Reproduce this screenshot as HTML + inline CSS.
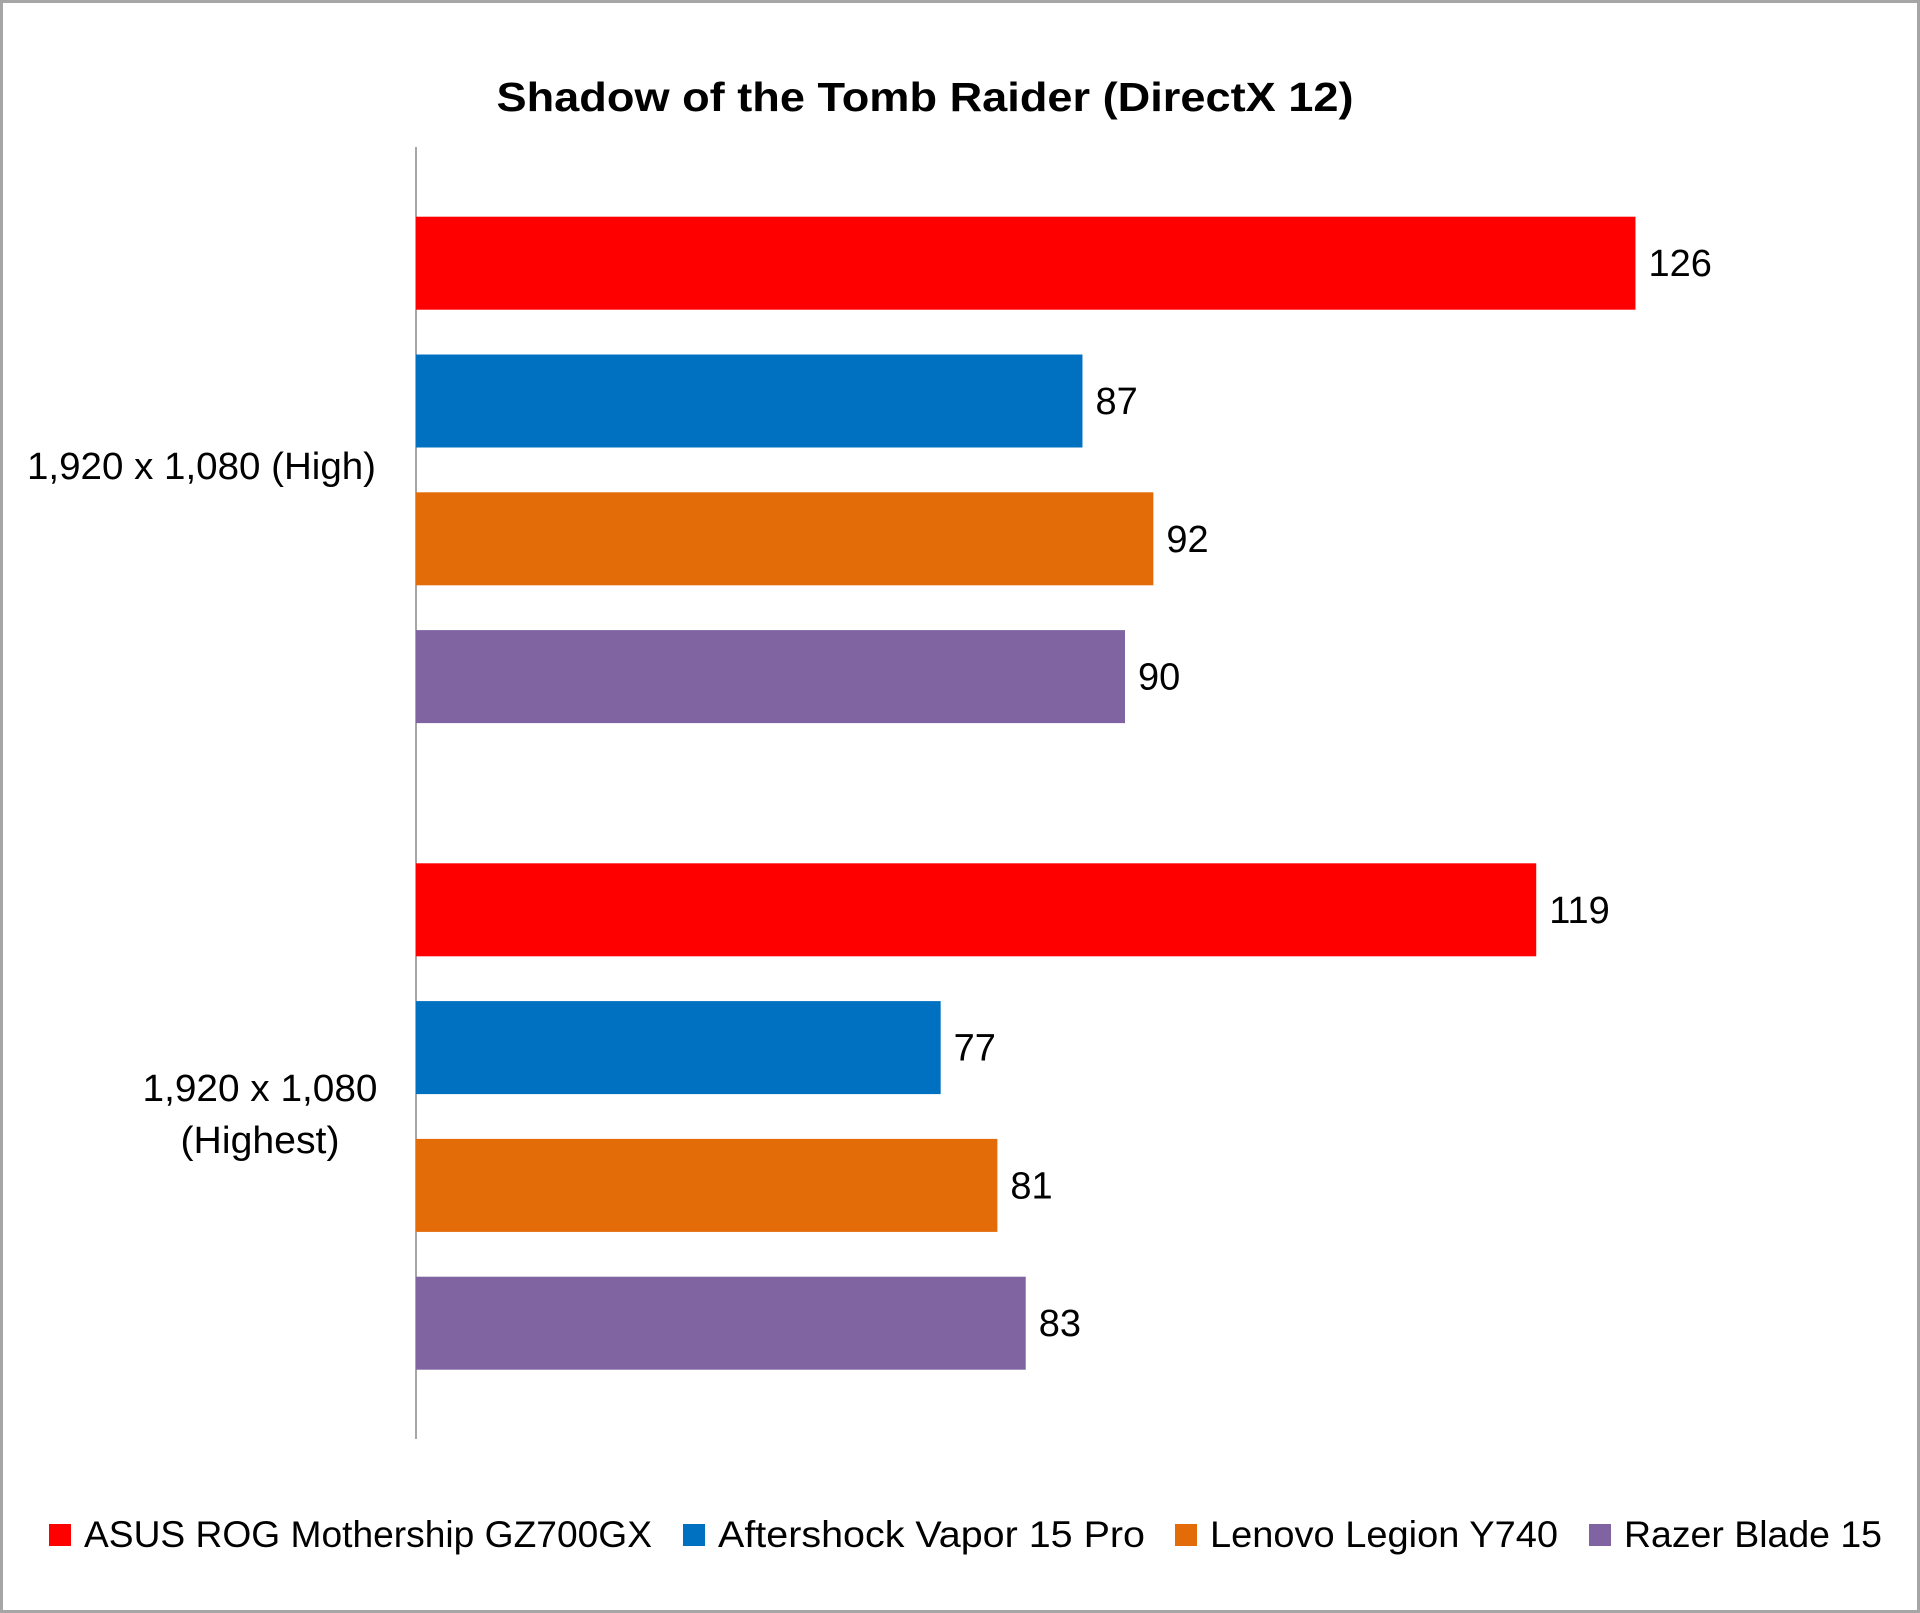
<!DOCTYPE html>
<html><head><meta charset="utf-8"><style>
html,body{margin:0;padding:0;background:#fff;}
#wrap{position:relative;width:1920px;height:1613px;box-sizing:border-box;border:3px solid #a6a6a6;background:#fff;overflow:hidden;font-family:"Liberation Sans",sans-serif;}
svg text{font-family:"Liberation Sans",sans-serif;}
</style></head><body>
<div id="wrap">
<svg id="chart" width="1914" height="1607" viewBox="3 3 1914 1607" xmlns="http://www.w3.org/2000/svg">
<text x="925" y="111" text-anchor="middle" font-size="41" font-weight="bold" fill="#000" textLength="857" lengthAdjust="spacingAndGlyphs">Shadow of the Tomb Raider (DirectX 12)</text>
<line x1="416" y1="147" x2="416" y2="1439" stroke="#a6a6a6" stroke-width="2"/>
<g id="bars"></g>
<g id="labels"></g>
<g id="legend"></g>
</svg>
</div>
<script>
const categories = ["1,920 x 1,080 (High)", "1,920 x 1,080 (Highest)"];
const seriesNames = ["ASUS ROG Mothership GZ700GX","Aftershock Vapor 15 Pro","Lenovo Legion Y740","Razer Blade 15"];
const seriesColors = ["#ff0000","#0070c0","#e36c09","#8064a2"];
const asusValues = [126, 119];
const aftershockValues = [87, 77];
const lenovoValues = [92, 81];
const razerValues = [90, 83];
const allSeries = [asusValues, aftershockValues, lenovoValues, razerValues];

const NS = "http://www.w3.org/2000/svg";
const xMin = 40, x0 = 416, pxPerUnit = 14.18;
function xScale(v){ return x0 + (v - xMin) * pxPerUnit; }
const groupStart = [216.7, 863.3], pitch = 137.8, barH = 93;
function yScale(g, s){ return groupStart[g] + s * pitch; }

const bars = document.getElementById('bars');
const labels = document.getElementById('labels');
categories.forEach((c, g) => {
  allSeries.forEach((vals, s) => {
    const v = vals[g];
    const r = document.createElementNS(NS, 'rect');
    r.setAttribute('x', x0); r.setAttribute('y', yScale(g, s));
    r.setAttribute('width', xScale(v) - x0); r.setAttribute('height', barH);
    r.setAttribute('fill', seriesColors[s]);
    
    
    bars.appendChild(r);
    const t = document.createElementNS(NS, 'text');
    t.setAttribute('x', xScale(v) + 13); t.setAttribute('y', yScale(g, s) + barH/2 + 13);
    t.setAttribute('font-size', '38'); t.setAttribute('fill', '#000');
    t.textContent = v;
    
    
    labels.appendChild(t);
  });
});
const c1 = document.createElementNS(NS, 'text');
c1.setAttribute('x', 376); c1.setAttribute('y', 479); c1.setAttribute('text-anchor', 'end');
c1.setAttribute('font-size', '38'); c1.textContent = categories[0];
c1.setAttribute('textLength', '349'); c1.setAttribute('lengthAdjust', 'spacingAndGlyphs');


labels.appendChild(c1);
const parts = ["1,920 x 1,080", "(Highest)"];
const partLen = [235, 159];
parts.forEach((p, i) => {
  const t = document.createElementNS(NS, 'text');
  t.setAttribute('x', 260); t.setAttribute('y', 1101 + i * 52); t.setAttribute('text-anchor', 'middle');
  t.setAttribute('font-size', '38'); t.textContent = p;
  t.setAttribute('textLength', partLen[i]); t.setAttribute('lengthAdjust', 'spacingAndGlyphs');
  
  
  labels.appendChild(t);
});
const legend = document.getElementById('legend');
const legX = [49, 683, 1175, 1589];
seriesNames.forEach((n, s) => {
  const r = document.createElementNS(NS, 'rect');
  r.setAttribute('x', legX[s]); r.setAttribute('y', 1524); r.setAttribute('width', 22); r.setAttribute('height', 22);
  r.setAttribute('fill', seriesColors[s]);
  
  
  legend.appendChild(r);
  const t = document.createElementNS(NS, 'text');
  t.setAttribute('x', legX[s] + 35); t.setAttribute('y', 1547);
  t.setAttribute('font-size', '37'); t.textContent = n;
  t.setAttribute('textLength', [568, 427, 348, 258][s]);
  t.setAttribute('lengthAdjust', 'spacingAndGlyphs');
  
  
  legend.appendChild(t);
});
</script>
</body></html>
